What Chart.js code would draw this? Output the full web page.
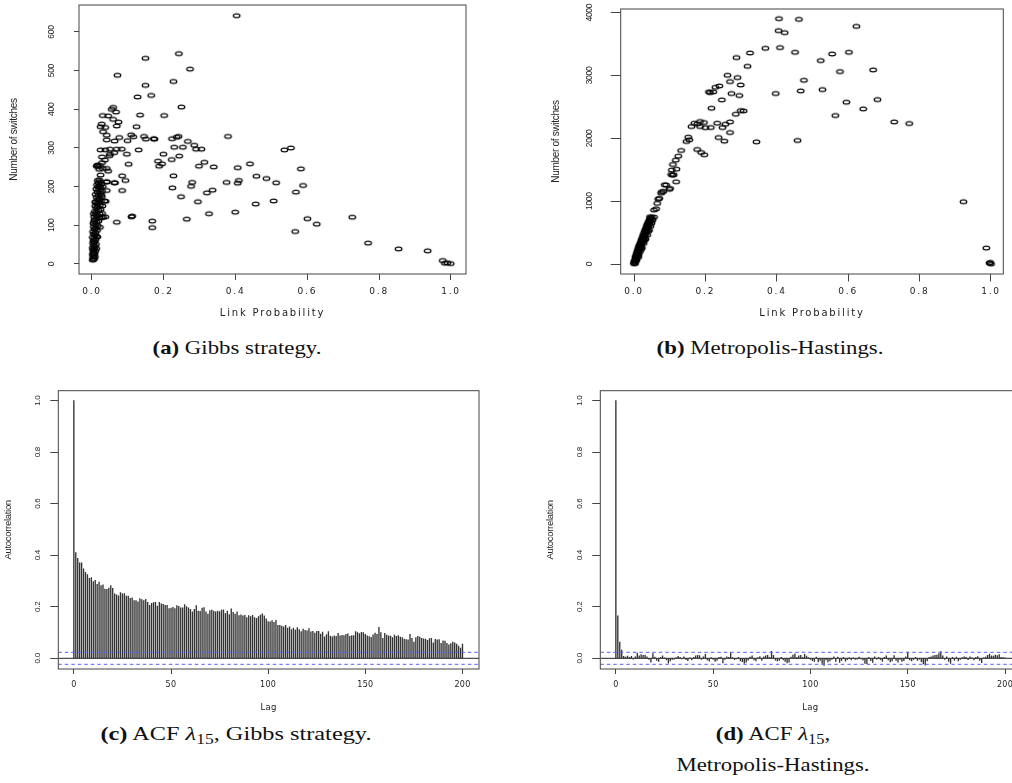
<!DOCTYPE html>
<html>
<head>
<meta charset="utf-8">
<script src="https://cdn.jsdelivr.net/npm/chart.js@4.4.1/dist/chart.umd.min.js"></script>
<style>
html, body { margin: 0; padding: 0; width: 1012px; height: 783px; overflow: hidden; background: #fff; }
canvas { position: absolute; }
.cap { position: absolute; width: 500px; text-align: center; white-space: nowrap;
       font-family: 'Liberation Serif', 'DejaVu Serif', serif; font-size: 19px; line-height: 22px;
       color: #111; transform: scaleX(1.2); }
.cap b { font-weight: bold; }
.cap sub { font-size: 0.72em; vertical-align: -0.3em; line-height: 0; }
</style>
</head>
<body>
<canvas id="gibbsScatter" width="490" height="330" style="left:0px;top:0px"></canvas>
<canvas id="mhScatter" width="482" height="330" style="left:530px;top:0px"></canvas>
<canvas id="gibbsAcf" width="490" height="340" style="left:0px;top:380px"></canvas>
<canvas id="mhAcf" width="500" height="340" style="left:530px;top:380px"></canvas>

<div class="cap" style="left:-13px;top:337px"><b>(a)</b> Gibbs strategy.</div>
<div class="cap" style="left:520px;top:337px"><b>(b)</b> Metropolis-Hastings.</div>
<div class="cap" style="left:-14px;top:723px;transform:scaleX(1.28)"><b>(c)</b> ACF <i>λ</i><sub>15</sub>, Gibbs strategy.</div>
<div class="cap" style="left:523px;top:723px"><b>(d)</b> ACF <i>λ</i><sub>15</sub>,</div>
<div class="cap" style="left:523px;top:754px">Metropolis-Hastings.</div>

<script>
// (link probability, number of switches)
var gibbsPoints = [
  [0.403,642],[0.242,544],[0.149,532],[0.273,504],[0.071,488],[0.227,472],[0.149,462],[0.165,436],
  [0.127,432],[0.249,406],[0.134,385],[0.201,384],[0.124,355],[0.379,330],[0.145,330],[0.172,324],
  [0.241,330],[0.236,328],[0.223,324],[0.267,317],[0.285,307],[0.305,297],[0.29,297],[0.536,295],
  [0.554,300],[0.229,302],[0.253,302],[0.13,295],[0.243,279],[0.199,284],[0.222,270],[0.184,266],
  [0.187,253],[0.195,259],[0.313,263],[0.298,253],[0.339,251],[0.44,259],[0.406,249],[0.582,246],
  [0.227,228],[0.458,227],[0.486,221],[0.279,211],[0.375,211],[0.409,216],[0.406,209],[0.513,210],
  [0.588,203],[0.276,201],[0.224,197],[0.336,191],[0.32,184],[0.568,186],[0.248,174],[0.295,161],
  [0.506,163],[0.456,155],[0.326,130],[0.399,134],[0.6,117],[0.626,103],[0.264,116],[0.566,84],
  [0.168,111],[0.168,94],[0.11,122],[0.112,124],[0.069,108],[0.093,216],[0.084,228],[0.084,190],
  [0.102,258],[0.064,210],[0.038,162],[0.041,212],[0.037,122],[0.725,121],[0.769,54],[0.854,39],
  [0.935,34],[0.977,9],[0.983,2],[0.999,1],[0.99,3],
  [0.059,405],[0.055,400],[0.067,393],[0.030,384],[0.045,383],[0.059,374],[0.074,367],[0.027,362],
  [0.037,353],[0.024,355],[0.031,342],[0.069,357],[0.109,334],[0.041,333],[0.076,327],[0.099,319],
  [0.115,329],[0.15,323],[0.174,323],[0.041,321],[0.063,318],[0.024,295],[0.037,295],[0.05,297],
  [0.069,297],[0.083,297],[0.062,288],[0.097,284],[0.05,284],[0.049,280],[0.028,277],[0.036,269],
  [0.017,252],[0.03,247],[0.041,247],[0.015,256],[0.045,240],[0.041,213],[0.062,210],[0.041,190],
  [0.035,163],[0.028,131],[0.031,121],[0.022,255],[0.013,253],[0.028,262],[0.024,230],[0.02,245],
  [0.002,10],[0.004,12],[0.006,14],[0.003,17],[0.008,19],[0.005,22],[0.002,25],[0.007,27],
  [0.004,30],[0.009,33],[0.003,36],[0.006,39],[0.002,42],[0.008,45],[0.005,48],[0.011,51],
  [0.003,54],[0.007,57],[0.004,60],[0.01,63],[0.006,66],[0.002,69],[0.012,72],[0.008,75],
  [0.005,78],[0.01,81],[0.003,84],[0.014,87],[0.007,90],[0.011,93],[0.005,96],[0.016,99],
  [0.009,102],[0.004,105],[0.013,108],[0.018,111],[0.007,114],[0.011,117],[0.02,119],[0.006,122],
  [0.015,125],[0.01,128],[0.021,130],[0.013,133],[0.008,136],[0.018,139],[0.024,141],[0.012,144],
  [0.016,147],[0.009,150],[0.022,152],[0.014,155],[0.019,158],[0.011,161],[0.025,163],[0.016,166],
  [0.021,169],[0.013,172],[0.027,174],[0.018,177],[0.01,180],[0.023,183],[0.015,186],[0.028,188],
  [0.019,191],[0.012,194],[0.024,197],[0.017,199],[0.021,202],[0.014,205],[0.026,207],[0.018,210],
  [0.023,213],[0.016,216],[0.02,218],[0.026,178],[0.029,150],[0.027,120],[0.022,95],[0.015,70],
  [0.012,40],[0.009,160],[0.005,130],[0.006,110],[0.03,200]
];

// (link probability, number of switches)
var mhPoints = [
  [0.406,3905],[0.462,3894],[0.623,3783],[0.405,3714],[0.422,3682],[0.368,3433],[0.409,3444],[0.451,3370],
  [0.325,3359],[0.555,3343],[0.602,3370],[0.523,3237],[0.287,3285],[0.318,3147],[0.577,3062],[0.67,3089],
  [0.262,3004],[0.29,2967],[0.269,2903],[0.299,2850],[0.239,2834],[0.228,2813],[0.476,2924],[0.213,2728],
  [0.222,2739],[0.397,2713],[0.273,2713],[0.467,2755],[0.528,2776],[0.295,2681],[0.682,2617],[0.246,2612],
  [0.595,2575],[0.217,2479],[0.642,2469],[0.299,2442],[0.307,2437],[0.285,2384],[0.564,2363],[0.729,2262],
  [0.771,2236],[0.233,2241],[0.256,2225],[0.269,2262],[0.185,2268],[0.169,2241],[0.161,2188],[0.196,2252],
  [0.185,2188],[0.215,2172],[0.248,2172],[0.178,2230],[0.269,2093],[0.237,2013],[0.253,1955],[0.343,1944],
  [0.458,1966],[0.152,2019],[0.155,1976],[0.147,1950],[0.177,1823],[0.188,1775],[0.197,1738],[0.132,1807],
  [0.124,1717],[0.117,1653],[0.109,1584],[0.119,1510],[0.104,1425],[0.111,1420],[0.118,1309],[0.101,1203],
  [0.086,1261],[0.082,1155],[0.076,1128],[0.068,1033],[0.062,879],[0.056,747],[0.923,991],[0.987,254],
  [0.998,26],[1.0,0],[0.996,16],[0.106,1496],[0.108,1416],[0.09,1257],[0.099,1189],[0.078,1151],
  [0.071,1045],[0.065,966],[0.056,859],[0.045,753],[0.21,2740],[0.2,2170],
  [0.001,20],[0.002,35],[0.004,50],[0.003,65],[0.006,80],[0.005,95],[0.008,110],[0.004,120],
  [0.009,135],[0.007,150],[0.011,165],[0.008,178],[0.012,190],[0.01,205],[0.014,220],[0.011,232],
  [0.016,245],[0.013,258],[0.018,270],[0.014,285],[0.019,298],[0.016,310],[0.021,322],[0.018,335],
  [0.023,348],[0.02,360],[0.025,372],[0.021,385],[0.026,398],[0.023,410],[0.028,422],[0.025,435],
  [0.03,448],[0.026,460],[0.031,472],[0.028,485],[0.033,497],[0.03,510],[0.035,522],[0.031,535],
  [0.036,547],[0.033,560],[0.038,572],[0.035,585],[0.04,597],[0.036,610],[0.041,622],[0.038,635],
  [0.043,647],[0.04,660],[0.045,672],[0.042,685],[0.047,697],[0.044,710],[0.048,722],[0.046,735],
  [0.05,745],[0.003,10],[0.0,5],[0.007,60],[0.001,40],[0.013,150],[0.017,200],[0.022,260],
  [0.027,330],[0.032,400],[0.037,460],[0.042,540],[0.046,600],[0.049,650],[0.052,700],[0.012,110],
  [0.02,240],[0.03,380],[0.04,520]
];

// autocorrelation of lambda_15, lags 0..200
var acfGibbs = [1.0,
  0.41,0.388,0.371,0.371,0.347,0.334,0.325,0.31,0.313,0.298,
  0.303,0.287,0.296,0.282,0.285,0.269,0.268,0.273,0.282,0.272,
  0.25,0.246,0.243,0.255,0.25,0.251,0.242,0.242,0.233,0.235,
  0.224,0.224,0.219,0.232,0.228,0.224,0.229,0.217,0.206,0.213,
  0.216,0.217,0.203,0.217,0.211,0.21,0.206,0.206,0.193,0.195,
  0.198,0.193,0.205,0.202,0.196,0.196,0.209,0.201,0.196,0.19,
  0.18,0.19,0.205,0.183,0.182,0.195,0.197,0.18,0.172,0.185,
  0.187,0.183,0.18,0.183,0.181,0.187,0.188,0.175,0.183,0.17,
  0.192,0.178,0.172,0.18,0.166,0.169,0.165,0.167,0.158,0.166,
  0.162,0.167,0.158,0.155,0.162,0.168,0.173,0.165,0.153,0.143,
  0.142,0.146,0.14,0.147,0.128,0.128,0.125,0.122,0.128,0.117,
  0.122,0.112,0.117,0.11,0.119,0.112,0.104,0.113,0.109,0.107,
  0.115,0.103,0.105,0.098,0.105,0.105,0.094,0.102,0.083,0.092,
  0.104,0.086,0.083,0.087,0.085,0.097,0.087,0.089,0.088,0.093,
  0.095,0.085,0.088,0.088,0.104,0.1,0.096,0.101,0.1,0.093,
  0.087,0.084,0.081,0.091,0.098,0.093,0.12,0.1,0.078,0.097,
  0.09,0.087,0.086,0.08,0.09,0.085,0.088,0.082,0.08,0.075,
  0.073,0.072,0.093,0.078,0.063,0.08,0.085,0.082,0.078,0.076,
  0.075,0.07,0.077,0.078,0.06,0.074,0.072,0.073,0.058,0.068,
  0.067,0.058,0.052,0.057,0.063,0.06,0.055,0.047,0.04,0.055
];
var acfMH = [1.0,
  0.165,0.063,0.032,0.008,0.005,0.009,0.004,0.008,-0.003,0.006,
  0.02,0.01,0.014,0.012,0.013,0.006,-0.004,-0.015,0.018,0.005,
  -0.008,-0.012,0.004,0.01,0.002,-0.006,-0.019,-0.01,-0.004,-0.003,
  0.003,0.008,0.004,-0.002,0.006,-0.005,-0.009,0.002,-0.006,0.004,
  0.01,0.012,0.011,-0.004,0.006,0.015,-0.006,-0.011,0.003,-0.004,
  -0.012,-0.008,0.004,0.005,-0.018,-0.004,0.006,0.004,0.022,0.003,
  -0.005,-0.002,0.004,-0.01,-0.013,-0.02,-0.015,-0.007,0.005,0.01,
  -0.006,-0.01,0.003,0.007,-0.008,0.006,0.01,0.012,0.004,0.027,
  0.012,-0.007,-0.01,-0.008,0.004,-0.006,-0.012,-0.018,-0.015,0.005,
  0.013,0.017,0.004,0.01,0.012,0.004,0.015,0.009,0.003,-0.004,
  -0.009,-0.012,0.005,-0.014,-0.008,-0.02,-0.028,-0.006,-0.014,-0.01,
  -0.004,0.006,-0.012,0.005,-0.016,-0.008,0.004,-0.011,-0.005,0.003,
  -0.006,0.002,-0.004,-0.003,0.005,-0.002,-0.007,-0.02,-0.021,0.004,
  -0.009,-0.016,0.006,-0.003,0.004,-0.005,-0.012,0.004,0.01,-0.006,
  -0.014,-0.01,0.011,-0.008,-0.015,-0.004,-0.012,-0.009,0.006,0.024,
  -0.006,-0.01,-0.004,0.004,-0.008,-0.003,-0.013,-0.022,-0.027,-0.01,
  0.004,0.006,0.01,0.012,0.013,0.018,0.026,0.01,-0.004,0.006,
  -0.012,-0.02,0.004,-0.008,0.005,-0.01,-0.004,0.003,0.006,0.004,
  -0.005,0.006,0.002,-0.006,0.004,0.007,-0.008,-0.017,0.002,0.005,
  0.012,0.016,0.01,0.009,0.013,0.011,0.014,0.004,0.003,0.002
];
var lags = acfGibbs.map(function(v, i) { return i; });
var ciBound = 0.0233;

var probTicks = [0, 0.2, 0.4, 0.6, 0.8, 1.0];
var gibbsSwitchTicks = [0, 100, 200, 300, 400, 500, 600];
var mhSwitchTicks = [0, 1000, 2000, 3000, 4000];
var lagTicks = [0, 50, 100, 150, 200];
var acfTicks = [0, 0.2, 0.4, 0.6, 0.8, 1.0];

var lineCol = '#444';
var textCol = '#222';
Chart.defaults.color = textCol;

// open circle, squeezed like the R output
var ring = document.createElement('canvas');
ring.width = 11; ring.height = 8;
var rc = ring.getContext('2d');
rc.strokeStyle = '#000';
rc.lineWidth = 1.25;
rc.beginPath();
rc.ellipse(5.5, 4, 3.3, 1.9, 0, 0, Math.PI * 2);
rc.stroke();

// vertical texts are drawn before the datasets, horizontal ones after
var spacingPlugin = {
  id: 'spacing',
  beforeDraw: function(chart, args, opts) { chart.ctx.letterSpacing = opts.v; },
  afterDatasetsDraw: function(chart, args, opts) { chart.ctx.letterSpacing = opts.h; }
};
var boxPlugin = {
  id: 'box',
  afterDraw: function(chart) {
    var a = chart.chartArea, ctx = chart.ctx;
    ctx.save();
    ctx.letterSpacing = '0px';
    ctx.strokeStyle = lineCol;
    ctx.lineWidth = 1;
    ctx.strokeRect(a.left, a.top, a.right - a.left, a.bottom - a.top);
    ctx.restore();
  }
};

function tickList(values) {
  return function(s) { s.ticks = values.map(function(v) { return {value: v}; }); };
}

function axes(o) {
  return {
    x: {
      type: 'linear', min: o.xMin, max: o.xMax, offset: false,
      afterBuildTicks: tickList(o.xTicks),
      afterFit: function(s) { s.height = o.xH; s.paddingLeft = 0; s.paddingRight = 0; },
      grid: { drawOnChartArea: false, drawTicks: true, tickLength: o.xTl, color: lineCol, offset: false, z: 1 },
      border: { display: false, z: 1 },
      ticks: { z: 1, autoSkip: false, maxRotation: 0, padding: o.xPad, color: textCol,
               font: { family: 'DejaVu Sans', size: o.xFs }, callback: o.xFmt },
      title: { display: true, text: o.xTitle, color: textCol,
               font: { family: 'DejaVu Sans', size: o.xTs }, padding: { top: 0, bottom: o.xTitlePad } }
    },
    y: {
      type: 'linear', min: o.yMin, max: o.yMax,
      afterBuildTicks: tickList(o.yTicks),
      afterFit: function(s) { s.width = o.yW; s.paddingTop = 0; s.paddingBottom = 0; },
      grid: { drawOnChartArea: false, drawTicks: true, tickLength: o.yTl, color: lineCol },
      border: { display: false },
      ticks: { autoSkip: false, minRotation: 90, maxRotation: 90, align: 'end', crossAlign: 'center',
               padding: o.yPad, color: textCol, font: { family: 'Liberation Sans', size: o.yFs }, callback: o.yFmt },
      title: { display: true, text: o.yTitle, color: textCol,
               font: { family: 'Liberation Sans', size: o.yTs },
               padding: { top: o.yTitlePad, bottom: 0 } }
    }
  };
}

function one(v) { return v.toFixed(1); }
function plain(v) { return String(v); }

function scatter(id, pts, o, pad) {
  new Chart(document.getElementById(id), {
    type: 'scatter',
    data: { datasets: [{
      data: pts.map(function(p) { return {x: p[0], y: p[1]}; }),
      pointStyle: ring, pointRadius: 4, pointHoverRadius: 4
    }]},
    options: {
      responsive: false, animation: false, events: [],
      layout: { padding: pad },
      plugins: { legend: { display: false }, tooltip: { enabled: false },
                 spacing: { h: '1.8px', v: '-0.3px' } },
      scales: axes(o)
    },
    plugins: [spacingPlugin, boxPlugin]
  });
}

function acf(id, values, o, pad) {
  new Chart(document.getElementById(id), {
    type: 'bar',
    data: { datasets: [
      { type: 'line', order: 0, data: [{x: o.xMin, y: 0}, {x: o.xMax, y: 0}],
        borderColor: '#222', borderWidth: 1, pointRadius: 0 },
      { type: 'line', order: 0, data: [{x: o.xMin, y: ciBound}, {x: o.xMax, y: ciBound}],
        borderColor: '#5a5aff', borderWidth: 1, borderDash: [3.5, 3], pointRadius: 0 },
      { type: 'line', order: 0, data: [{x: o.xMin, y: -ciBound}, {x: o.xMax, y: -ciBound}],
        borderColor: '#5a5aff', borderWidth: 1, borderDash: [3.5, 3], pointRadius: 0 },
      { type: 'bar', order: 1, data: lags.map(function(l, i) { return {x: l, y: values[i]}; }),
        backgroundColor: '#333', borderWidth: 0, barThickness: 0.7 }
    ]},
    options: {
      responsive: false, animation: false, events: [],
      layout: { padding: pad },
      plugins: { legend: { display: false }, tooltip: { enabled: false },
                 spacing: { h: '0.3px', v: '-0.3px' } },
      scales: axes(o)
    },
    plugins: [spacingPlugin, boxPlugin]
  });
}

scatter('gibbsScatter', gibbsPoints, {
  xMin: -0.0362, xMax: 1.0418, xTicks: probTicks, xFmt: one, xH: 56, xTl: 6, xPad: 6.6, xFs: 9,
  xTitle: 'Link Probability', xTs: 10, xTitlePad: 10.7,
  yMin: -25.9, yMax: 669.8, yTicks: gibbsSwitchTicks, yFmt: plain, yW: 79, yTl: 5, yPad: 11, yFs: 8.5,
  yTitle: 'Number of switches', yTs: 10, yTitlePad: 7.8
}, { top: 5, right: 24, left: 0, bottom: 0 });

scatter('mhScatter', mhPoints, {
  xMin: -0.0373, xMax: 1.0345, xTicks: probTicks, xFmt: one, xH: 56, xTl: 7.5, xPad: 4.8, xFs: 9,
  xTitle: 'Link Probability', xTs: 10, xTitlePad: 10.7,
  yMin: -159, yMax: 4058.6, yTicks: mhSwitchTicks, yFmt: plain, yW: 90.7, yTl: 10, yPad: 7.7, yFs: 8.5,
  yTitle: 'Number of switches', yTs: 10, yTitlePad: 20.7
}, { top: 9, right: 8.7, left: 0, bottom: 0 });

acf('gibbsAcf', acfGibbs, {
  xMin: -8, xMax: 208.5, xTicks: lagTicks, xFmt: plain, xH: 51, xTl: 5, xPad: 6.2, xFs: 8,
  xTitle: 'Lag', xTs: 8.5, xTitlePad: 6.9,
  yMin: -0.0415, yMax: 1.0388, yTicks: acfTicks, yFmt: one, yW: 58.3, yTl: 8, yPad: 3.2, yFs: 8,
  yTitle: 'Autocorrelation', yTs: 9.5, yTitlePad: 2.3
}, { top: 10.7, right: 11, left: 0, bottom: 0 });

acf('mhAcf', acfMH, {
  xMin: -8, xMax: 208, xTicks: lagTicks, xFmt: plain, xH: 51, xTl: 5, xPad: 6.2, xFs: 8,
  xTitle: 'Lag', xTs: 8.5, xTitlePad: 6.9,
  yMin: -0.0415, yMax: 1.0388, yTicks: acfTicks, yFmt: one, yW: 70.3, yTl: 8, yPad: 2.9, yFs: 8,
  yTitle: 'Autocorrelation', yTs: 9.5, yTitlePad: 14.3
}, { top: 10.7, right: 9.4, left: 0, bottom: 0 });
</script>
</body>
</html>
